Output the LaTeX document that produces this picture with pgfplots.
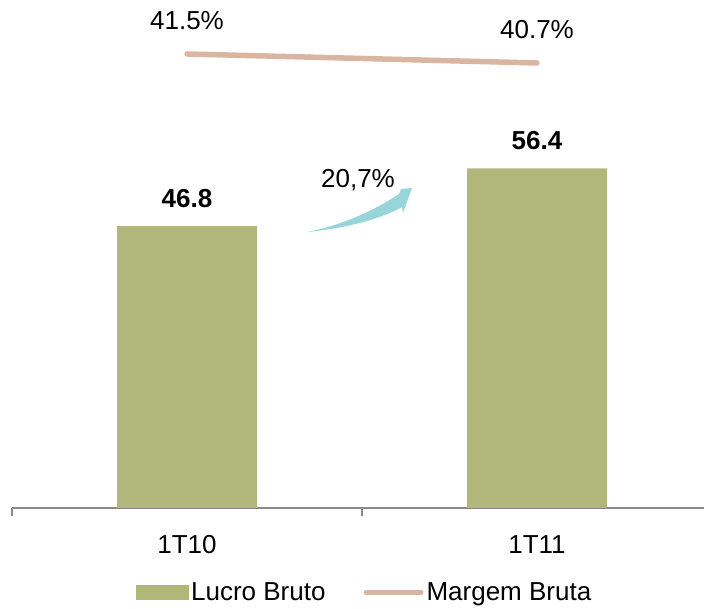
\documentclass[border=0pt]{standalone}
\usepackage{pgfplots}
\pgfplotsset{compat=1.18}
\usepackage{fontspec}
\setmainfont{Liberation Sans}
\definecolor{barcol}{HTML}{B1B67A}
\definecolor{linecol}{HTML}{DAB5A2}
\definecolor{arrowcol}{HTML}{96D6DA}
\definecolor{axiscol}{HTML}{898989}
\newcommand{\bigf}{\fontsize{26bp}{31bp}\selectfont}
\begin{document}
\begin{tikzpicture}[font=\bigf]
\begin{axis}[
  at={(12bp,101bp)}, anchor=south west,
  scale only axis, width=700bp, height=498bp,
  xmin=-0.5, xmax=1.5, ymin=0, ymax=82.7,
  axis y line=none, axis x line*=bottom,
  x axis line style={axiscol, line width=1.6bp},
  xtick={0,1}, xticklabels={1T10,1T11},
  major x tick style={draw=none},
  xticklabel style={font=\bigf, anchor=base, inner sep=0pt, yshift=-41bp},
  extra x ticks={-0.5,0.5,1.5}, extra x tick labels={},
  extra x tick style={tick align=outside, major tick length=8bp, major x tick style={draw=axiscol, line width=1.6bp}},
  ybar, bar width=140bp,
  nodes near coords, point meta=explicit symbolic,
  nodes near coords style={font=\bigf\bfseries, anchor=base, inner sep=0pt, yshift=19bp, black},
]
\addplot[fill=barcol, draw=none] coordinates {(0,46.8)[46.8] (1,56.4)[56.4]};
\end{axis}
\begin{axis}[
  at={(12bp,101bp)}, anchor=south west,
  scale only axis, width=700bp, height=498bp,
  xmin=-0.5, xmax=1.5, ymin=1.14, ymax=45.41,
  hide axis,
  legend columns=2,
  legend style={at={(0.5043,-0.169)}, anchor=center, draw=none, fill=none, font=\bigf,
    inner sep=0pt,
    /tikz/every even column/.append style={column sep=35bp},
    nodes={inner sep=3bp}},
]
\addlegendimage{legend image code/.code={\fill[barcol] (0bp,-7bp) rectangle (52bp,7bp);}}
\addlegendentry{Lucro Bruto}
\addplot[linecol, line width=5.5bp, line cap=round,
  nodes near coords, point meta=explicit symbolic,
  nodes near coords style={font=\bigf, anchor=base, inner sep=0pt, yshift=24.5bp, black},
  legend image code/.code={\draw[linecol, line width=5bp, line cap=round] (0bp,0bp) -- (55bp,0bp);}]
  coordinates {(0,41.5)[41.5\%] (1,40.7)[40.7\%]};
\addlegendentry{Margem Bruta}
\end{axis}
\fill[arrowcol] (307bp,377bp) .. controls (350bp,381bp) and (385bp,392bp) .. (402bp,402bp)
  -- (403bp,396bp) -- (412bp,421bp) -- (401bp,420bp) -- (399bp,415bp)
  .. controls (380bp,402bp) and (345bp,384bp) .. cycle;
\node at (358bp,429bp) {20,7\%};
\pgfresetboundingbox
\useasboundingbox (0bp,0bp) rectangle (704bp,609bp);
\end{tikzpicture}
\end{document}
